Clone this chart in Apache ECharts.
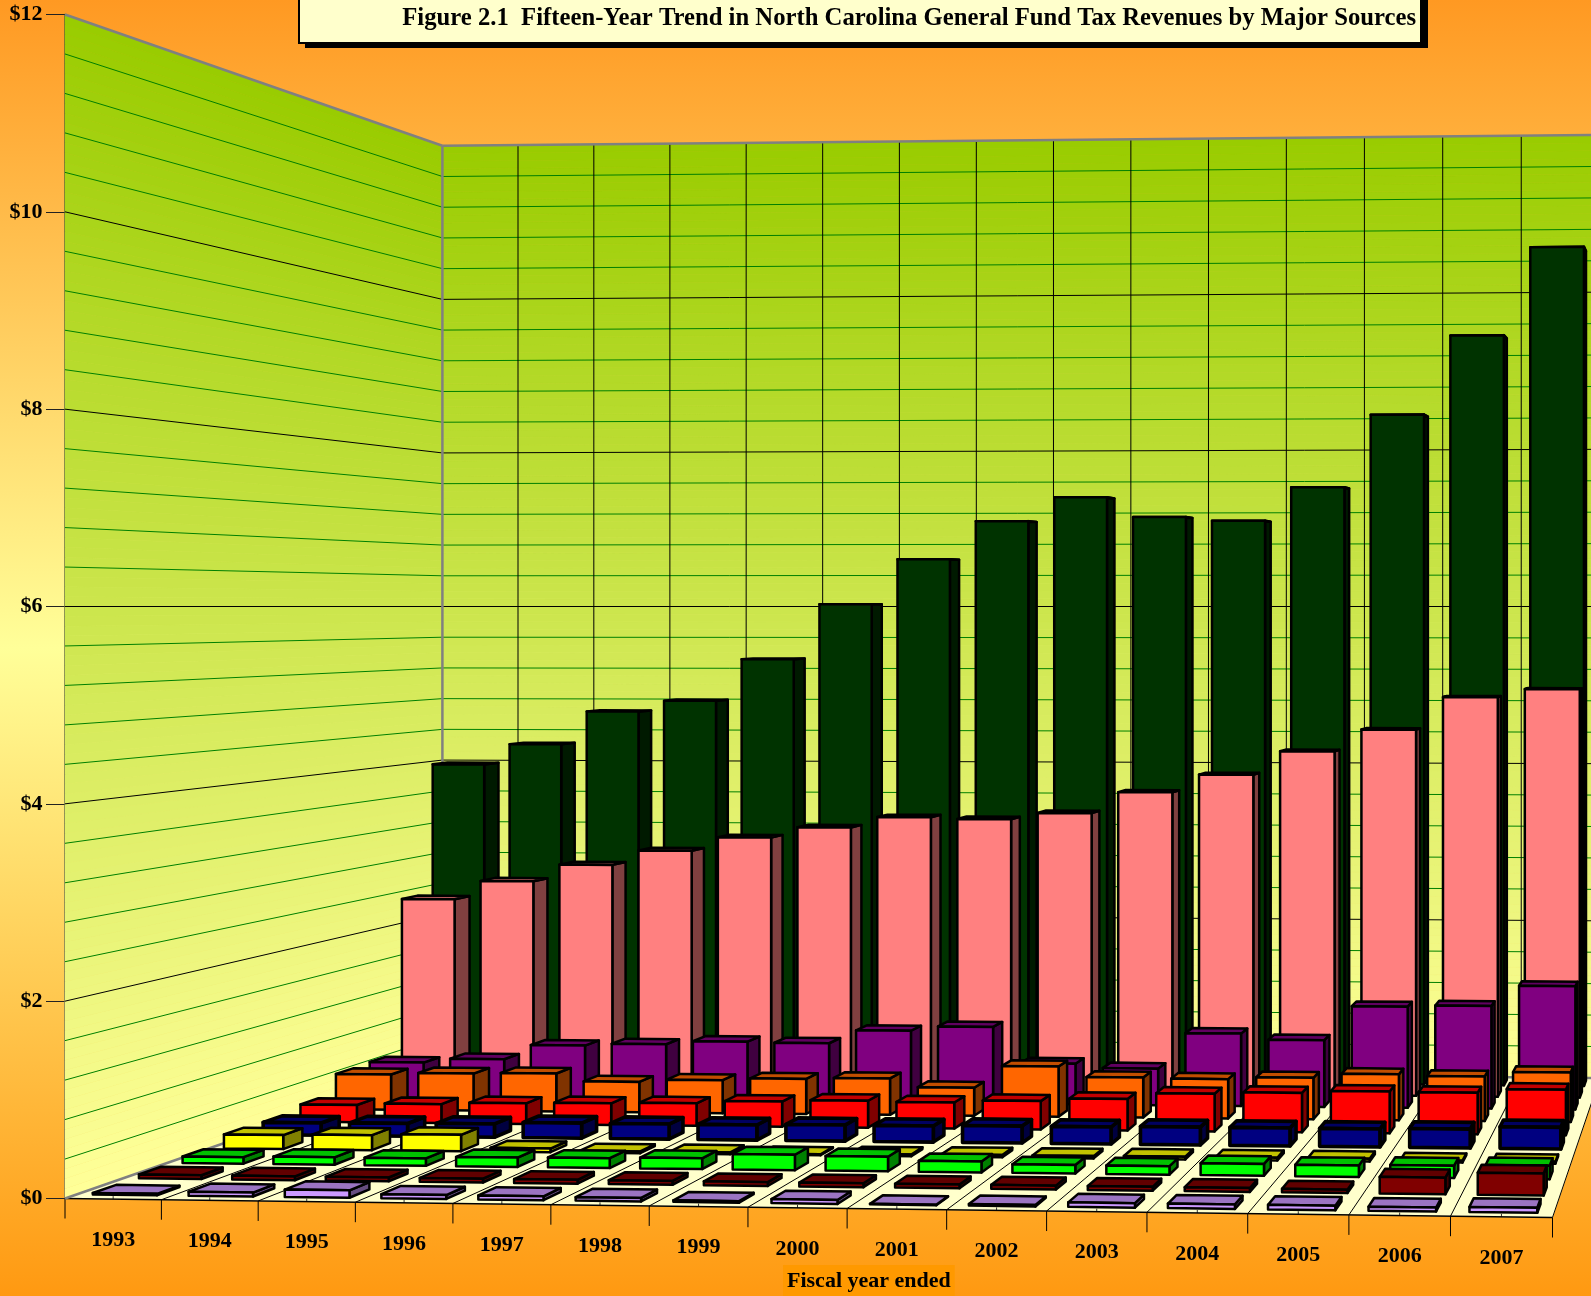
<!DOCTYPE html>
<html>
<head>
<meta charset="utf-8">
<title>Figure 2.1</title>
<style>
  html, body { margin: 0; padding: 0; }
  #chart { width: 1591px; height: 1296px; }
</style>
<script src="https://cdn.jsdelivr.net/npm/echarts@6/dist/echarts.min.js"></script>
</head>
<body>
<div id="chart"></div>
<script>
const years = ['1993', '1994', '1995', '1996', '1997', '1998', '1999', '2000', '2001', '2002', '2003', '2004', '2005', '2006', '2007']

// values in billions of dollars, rows listed from back to front
const darkGreenValues = [3.98, 4.24, 4.66, 4.8, 5.33, 6.03, 6.6, 7.08, 7.38, 7.13, 7.08, 7.5, 8.41, 9.4, 10.5]
const pinkValues = [2.34, 2.57, 2.78, 2.96, 3.13, 3.26, 3.39, 3.37, 3.45, 3.71, 3.93, 4.22, 4.49, 4.89, 4.99]
const purpleValues = [0.43, 0.48, 0.655, 0.68, 0.72, 0.71, 0.87, 0.925, 0.49, 0.44, 0.87, 0.8, 1.21, 1.225, 1.47]
const orangeValues = [0.42, 0.44, 0.45, 0.36, 0.39, 0.415, 0.43, 0.33, 0.59, 0.47, 0.46, 0.485, 0.535, 0.52, 0.575]
const redValues = [0.2, 0.22, 0.24, 0.25, 0.26, 0.29, 0.31, 0.3, 0.326, 0.36, 0.43, 0.45, 0.475, 0.47, 0.515]
const navyValues = [0.14, 0.145, 0.15, 0.17, 0.17, 0.17, 0.18, 0.18, 0.19, 0.19, 0.2, 0.2, 0.2, 0.21, 0.24]
const yellowValues = [0.155, 0.165, 0.18, 0.04, 0.02, 0.02, 0.01, 0.02, 0.025, 0.025, 0.03, 0.03, 0.03, 0.02, 0.02]
const greenValues = [0.07, 0.08, 0.08, 0.1, 0.105, 0.115, 0.165, 0.155, 0.115, 0.09, 0.09, 0.125, 0.12, 0.13, 0.14]
const darkRedValues = [0.04, 0.04, 0.04, 0.04, 0.04, 0.04, 0.04, 0.04, 0.04, 0.04, 0.04, 0.04, 0.035, 0.17, 0.225]
const lilacValues = [0.015, 0.04, 0.075, 0.04, 0.04, 0.035, 0.015, 0.04, 0.005, 0.015, 0.045, 0.045, 0.045, 0.04, 0.05]

const rowValues = [darkGreenValues, pinkValues, purpleValues, orangeValues, redValues, navyValues, yellowValues, greenValues, darkRedValues, lilacValues]
const rowNames = ['Dark green', 'Pink', 'Purple', 'Orange', 'Red', 'Navy', 'Yellow', 'Green', 'Dark red', 'Lilac']
const rowColors = [[0, 51, 0], [255, 128, 128], [128, 0, 128], [255, 102, 0], [255, 0, 0], [0, 0, 128], [255, 255, 0], [0, 255, 0], [128, 0, 0], [204, 153, 255]]
const rowStrokes = [2.5, 2.5, 2.5, 2.5, 2.5, 3.6, 2.5, 2.5, 2.5, 2.5]

const gridLeft = 65
const gridRight = 38.5
const gridTop = 14.5
const gridHeight = 1184
const horizonY = 606.5
const horizonValue = 6
const barWidth = 0.67
const barDepth = 0.5
const yearBow = 0.007 // the year spacing in the picture grows a bit slower than a true perspective

// floor corners on screen: front left, front right, back right, back left
const floorCorners = [[65, 1198.5], [1552.5, 1217.5], [1600, 1078], [442.4, 1067.2]]
const floorMatrix = squareToQuad(floorCorners)

function squareToQuad(p) {
  const dx1 = p[1][0] - p[2][0]
  const dx2 = p[3][0] - p[2][0]
  const sx = p[0][0] - p[1][0] + p[2][0] - p[3][0]
  const dy1 = p[1][1] - p[2][1]
  const dy2 = p[3][1] - p[2][1]
  const sy = p[0][1] - p[1][1] + p[2][1] - p[3][1]
  const den = dx1 * dy2 - dx2 * dy1
  const g = (sx * dy2 - dx2 * sy) / den
  const h = (dx1 * sy - sx * dy1) / den
  return {
    a: p[1][0] - p[0][0] + g * p[1][0],
    b: p[3][0] - p[0][0] + h * p[3][0],
    c: p[0][0],
    d: p[1][1] - p[0][1] + g * p[1][1],
    e: p[3][1] - p[0][1] + h * p[3][1],
    f: p[0][1],
    g: g,
    h: h
  }
}

// u runs along the years, w runs from the front edge to the back wall
function project(u, w, value) {
  const m = floorMatrix
  const ub = u + yearBow * u * (1 - u)
  const q = m.g * ub + m.h * w + 1
  const x = (m.a * ub + m.b * w + m.c) / q
  const y = (m.d * ub + m.e * w + m.f) / q
  return [x, horizonY + (y - horizonY) * (1 - value / horizonValue)]
}

function shade(rgb, k) {
  return 'rgb(' + rgb.map(c => Math.round(c * k)).join(',') + ')'
}

function poly(points, fill, stroke, lineWidth) {
  return {
    type: 'polygon',
    shape: { points: points },
    style: { fill: fill, stroke: stroke, lineWidth: lineWidth, lineJoin: 'round' }
  }
}

function line(a, b, color, width) {
  return {
    type: 'line',
    shape: { x1: a[0], y1: a[1], x2: b[0], y2: b[1] },
    style: { stroke: color, lineWidth: width }
  }
}

function wallColor(t) {
  const from = [153, 204, 0]
  const to = [255, 255, 153]
  return 'rgb(' + from.map((c, i) => Math.round(c + (to[i] - c) * t)).join(',') + ')'
}

function renderWalls() {
  const children = []
  const gray = '#808080'
  for (let n = 0; n < 120; n++) {
    const v0 = n / 10
    const v1 = (n + 1) / 10
    const color = wallColor(1 - (n + 0.5) / 120)
    children.push(poly([project(0, 0, v0), project(0, 1, v0), project(0, 1, v1), project(0, 0, v1)], color, color, 0.6))
    children.push(poly([project(0, 1, v0), project(1, 1, v0), project(1, 1, v1), project(0, 1, v1)], color, color, 0.6))
  }
  children.push(poly([project(0, 0, 0), project(1, 0, 0), project(1, 1, 0), project(0, 1, 0)], '#ffffcc', '#ffffcc', 0.5))
  for (let n = 1; n < 30; n++) {
    const v = n * 0.4
    const color = n % 5 === 0 ? '#000' : '#008000'
    children.push(line(project(0, 0, v), project(0, 1, v), color, 1))
    children.push(line(project(0, 1, v), project(1, 1, v), color, 1))
  }
  years.forEach((y, k) => {
    const u = (k + 1) / years.length
    children.push(line(project(u, 1, 0), project(u, 1, 12), '#000', 1))
  })
  for (let k = 0; k <= years.length; k++) {
    const u = k / years.length
    const front = project(u, 0, 0)
    children.push(line(front, project(u, 1, 0), '#000', 1))
    children.push(line(front, [front[0], front[1] + 20], '#000', 1))
  }
  years.forEach((y, k) => {
    const c = project((k + 0.5) / years.length, 0, 0)
    children.push(line(c, [c[0], c[1] - 3], '#333', 1))
  })
  children.push(line(project(0, 0, 0), project(1, 0, 0), '#000', 1.5))
  children.push(line(project(0, 0, 0), project(0, 1, 0), gray, 2.5))
  children.push(line(project(0, 1, 0), project(1, 1, 0), gray, 2.5))
  children.push(line(project(0, 0, 12), project(0, 1, 12), gray, 2.5))
  children.push(line(project(0, 1, 12), project(1, 1, 12), gray, 2.5))
  children.push(line(project(0, 1, 0), project(0, 1, 12), gray, 2.5))
  return { type: 'group', children: children }
}

function makeBarRender(rowIndex) {
  const rowCount = rowValues.length
  const w0 = (rowCount - 1 - rowIndex + 0.5 - barDepth / 2) / rowCount
  const w1 = (rowCount - 1 - rowIndex + 0.5 + barDepth / 2) / rowCount
  const rgb = rowColors[rowIndex]
  const lw = rowStrokes[rowIndex]
  return function(params, api) {
    const rect = params.coordSys
    const pos = api.coord([api.value(0), api.value(1)])
    const band = api.size([1, 0])[0]
    const uc = (pos[0] - rect.x) / rect.width
    const half = barWidth * band / rect.width / 2
    const value = (rect.y + rect.height - pos[1]) / rect.height * 12
    const u0 = uc - half
    const u1 = uc + half
    const stroke = '#000'
    return {
      type: 'group',
      children: [
        poly([project(u1, w0, 0), project(u1, w1, 0), project(u1, w1, value), project(u1, w0, value)], shade(rgb, 0.5), stroke, lw),
        poly([project(u0, w0, value), project(u1, w0, value), project(u1, w1, value), project(u0, w1, value)], shade(rgb, 0.76), stroke, lw),
        poly([project(u0, w0, 0), project(u1, w0, 0), project(u1, w0, value), project(u0, w0, value)], shade(rgb, 1), stroke, lw)
      ]
    }
  }
}

function renderYearLabel(params, api) {
  const k = api.value(0)
  const p = project((k + 0.5) / years.length, 0, 0)
  return {
    type: 'text',
    style: {
      x: p[0],
      y: p[1] + 41,
      text: years[k],
      align: 'center',
      verticalAlign: 'middle',
      fill: '#000',
      font: 'bold 22px "Liberation Serif"'
    }
  }
}

const barSeries = rowValues.map((values, i) => ({
  name: rowNames[i],
  type: 'custom',
  clip: false,
  renderItem: makeBarRender(i),
  encode: { x: 0, y: 1 },
  data: values.map((v, k) => [k, v])
}))

const chart = echarts.init(document.getElementById('chart'))
chart.setOption({
  animation: false,
  backgroundColor: {
    type: 'linear',
    x: 0,
    y: 0,
    x2: 0,
    y2: 1,
    colorStops: [
      { offset: 0, color: '#ff9922' },
      { offset: 0.5, color: '#ffff99' },
      { offset: 1, color: '#ff9911' }
    ]
  },
  title: [
    {
      text: 'Figure 2.1  Fifteen-Year Trend in North Carolina General Fund Tax Revenues by Major Sources',
      right: 175,
      top: 6,
      padding: 0,
      textStyle: { fontFamily: 'Liberation Serif', fontWeight: 'bold', fontSize: 24.7, color: '#000' }
    },
    {
      text: 'Fiscal year ended',
      left: 783,
      top: 1265,
      padding: [5, 4, 6, 4],
      backgroundColor: '#ff9900',
      textStyle: { fontFamily: 'Liberation Serif', fontWeight: 'bold', fontSize: 22, color: '#000' }
    }
  ],
  graphic: [
    { type: 'rect', z: 3, shape: { x: 305, y: -10, width: 1123, height: 58 }, style: { fill: '#000' } },
    { type: 'rect', z: 4, shape: { x: 299, y: -10, width: 1122, height: 53 }, style: { fill: '#ffffcc', stroke: '#000', lineWidth: 2 } }
  ],
  grid: { left: gridLeft, right: gridRight, top: gridTop, height: gridHeight },
  xAxis: {
    type: 'category',
    data: years,
    show: false
  },
  yAxis: {
    type: 'value',
    min: 0,
    max: 12,
    interval: 2,
    axisLine: { show: true, lineStyle: { color: '#444', width: 1.5 } },
    axisTick: { show: true, length: 19, lineStyle: { color: '#222' } },
    splitLine: { show: false },
    axisLabel: {
      margin: 22.5,
      formatter: '${value}',
      color: '#000',
      fontFamily: 'Liberation Serif',
      fontWeight: 'bold',
      fontSize: 22
    }
  },
  series: [
    { type: 'custom', name: 'Walls', silent: true, clip: false, renderItem: renderWalls, data: [[0, 0]] }
  ].concat(barSeries).concat([
    { type: 'custom', name: 'Years', silent: true, clip: false, renderItem: renderYearLabel, encode: { x: 0, y: 1 }, data: years.map((y, k) => [k, 0]) }
  ])
})
</script>
</body>
</html>
